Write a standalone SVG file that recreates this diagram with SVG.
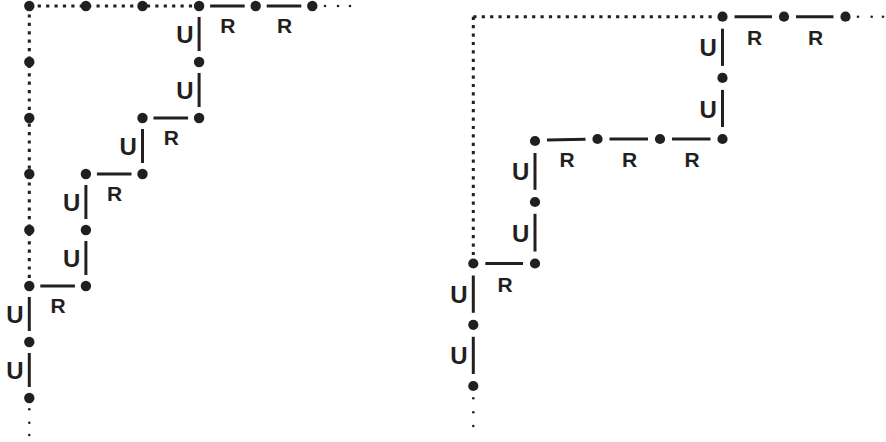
<svg xmlns="http://www.w3.org/2000/svg" width="886" height="442" viewBox="0 0 886 442">
<style>
.bg{fill:#ffffff}
.node{fill:#231f20}
.tiny{fill:#231f20}
.seg{stroke:#231f20;stroke-width:3;fill:none}
.dot{stroke:#231f20;stroke-width:3;fill:none;stroke-dasharray:3.2 5.2}
.u{font-family:"Liberation Sans",Arial,sans-serif;font-weight:bold;font-size:24px;fill:#231f20;text-anchor:middle}
.r{font-family:"Liberation Sans",Arial,sans-serif;font-weight:bold;font-size:21px;fill:#231f20;text-anchor:middle}
</style>
<rect class="bg" x="0" y="0" width="886" height="442"/>

<!-- LEFT DIAGRAM -->
<g id="left-connectors">
  <line class="dot" x1="29.3" y1="6" x2="199.1" y2="6"/>
  <line class="dot" x1="29.3" y1="6" x2="29.3" y2="286"/>
  <line class="seg" x1="29.3" y1="387" x2="29.3" y2="353"/>
  <line class="seg" x1="29.3" y1="331" x2="29.3" y2="297"/>
  <line class="seg" x1="40.3" y1="286" x2="74.9" y2="286"/>
  <line class="seg" x1="85.9" y1="275" x2="85.9" y2="241"/>
  <line class="seg" x1="85.9" y1="219" x2="85.9" y2="185"/>
  <line class="seg" x1="96.9" y1="174" x2="131.5" y2="174"/>
  <line class="seg" x1="142.5" y1="163" x2="142.5" y2="129"/>
  <line class="seg" x1="153.5" y1="118" x2="188.1" y2="118"/>
  <line class="seg" x1="199.1" y1="107" x2="199.1" y2="73"/>
  <line class="seg" x1="199.1" y1="51" x2="199.1" y2="17"/>
  <line class="seg" x1="210.1" y1="6" x2="244.7" y2="6"/>
  <line class="seg" x1="266.7" y1="6" x2="301.3" y2="6"/>
  <circle class="tiny" cx="325" cy="6" r="1.3"/>
  <circle class="tiny" cx="338" cy="6" r="1.3"/>
  <circle class="tiny" cx="350" cy="6" r="1.3"/>
  <circle class="tiny" cx="29.3" cy="409.3" r="1.3"/>
  <circle class="tiny" cx="29.3" cy="422.7" r="1.3"/>
  <circle class="tiny" cx="29.3" cy="435" r="1.3"/>
  <text class="u" x="15" y="379">U</text>
  <text class="u" x="15" y="323">U</text>
  <text class="u" x="71.6" y="267">U</text>
  <text class="u" x="71.6" y="211">U</text>
  <text class="u" x="128.2" y="155">U</text>
  <text class="u" x="184.8" y="99">U</text>
  <text class="u" x="184.8" y="43">U</text>
  <text class="r" x="58.1" y="313">R</text>
  <text class="r" x="114.7" y="201">R</text>
  <text class="r" x="171.3" y="145">R</text>
  <text class="r" x="227.9" y="33">R</text>
  <text class="r" x="284.5" y="33">R</text>
</g>
<g id="L-a0"><circle class="node" cx="29.3" cy="6" r="5.2"/></g>
<g id="L-a1"><circle class="node" cx="85.9" cy="6" r="5.2"/></g>
<g id="L-a2"><circle class="node" cx="142.5" cy="6" r="5.2"/></g>
<g id="L-b1"><circle class="node" cx="29.3" cy="62" r="5.2"/></g>
<g id="L-b2"><circle class="node" cx="29.3" cy="118" r="5.2"/></g>
<g id="L-b3"><circle class="node" cx="29.3" cy="174" r="5.2"/></g>
<g id="L-b4"><circle class="node" cx="29.3" cy="230" r="5.2"/></g>
<g id="L-p0"><circle class="node" cx="29.3" cy="398" r="5.2"/></g>
<g id="L-p1"><circle class="node" cx="29.3" cy="342" r="5.2"/></g>
<g id="L-p2"><circle class="node" cx="29.3" cy="286" r="5.2"/></g>
<g id="L-p3"><circle class="node" cx="85.9" cy="286" r="5.2"/></g>
<g id="L-p4"><circle class="node" cx="85.9" cy="230" r="5.2"/></g>
<g id="L-p5"><circle class="node" cx="85.9" cy="174" r="5.2"/></g>
<g id="L-p6"><circle class="node" cx="142.5" cy="174" r="5.2"/></g>
<g id="L-p7"><circle class="node" cx="142.5" cy="118" r="5.2"/></g>
<g id="L-p8"><circle class="node" cx="199.1" cy="118" r="5.2"/></g>
<g id="L-p9"><circle class="node" cx="199.1" cy="62" r="5.2"/></g>
<g id="L-p10"><circle class="node" cx="199.1" cy="6" r="5.2"/></g>
<g id="L-p11"><circle class="node" cx="255.7" cy="6" r="5.2"/></g>
<g id="L-p12"><circle class="node" cx="312.3" cy="6" r="5.2"/></g>

<!-- RIGHT DIAGRAM -->
<g id="right-connectors">
  <line class="dot" x1="473.3" y1="16.7" x2="716" y2="16.7"/>
  <line class="dot" x1="473.3" y1="16.7" x2="473.3" y2="256"/>
  <line class="seg" x1="473.3" y1="374" x2="473.3" y2="336.8"/>
  <line class="seg" x1="473.3" y1="312.8" x2="473.3" y2="275.5"/>
  <line class="seg" x1="485.3" y1="263.5" x2="523" y2="263.5"/>
  <line class="seg" x1="535" y1="251.5" x2="535" y2="213.8"/>
  <line class="seg" x1="535" y1="189.8" x2="535" y2="153"/>
  <line class="seg" x1="547" y1="140" x2="585.5" y2="139.3"/>
  <line class="seg" x1="609.5" y1="139" x2="648" y2="139"/>
  <line class="seg" x1="672" y1="139" x2="710.5" y2="139"/>
  <line class="seg" x1="722.5" y1="127" x2="722.5" y2="89.9"/>
  <line class="seg" x1="722.5" y1="65.9" x2="722.5" y2="28.7"/>
  <line class="seg" x1="734.5" y1="16.7" x2="772" y2="16.7"/>
  <line class="seg" x1="796" y1="16.7" x2="833.5" y2="16.7"/>
  <circle class="tiny" cx="858" cy="16.7" r="1.3"/>
  <circle class="tiny" cx="871.7" cy="16.7" r="1.3"/>
  <circle class="tiny" cx="883" cy="16.7" r="1.3"/>
  <circle class="tiny" cx="473.3" cy="398.3" r="1.3"/>
  <circle class="tiny" cx="473.3" cy="412.3" r="1.3"/>
  <circle class="tiny" cx="473.3" cy="426" r="1.3"/>
  <text class="u" x="459" y="364.4">U</text>
  <text class="u" x="459" y="303.2">U</text>
  <text class="u" x="520.7" y="241.6">U</text>
  <text class="u" x="520.7" y="180.4">U</text>
  <text class="u" x="708.2" y="117.5">U</text>
  <text class="u" x="708.2" y="56.3">U</text>
  <text class="r" x="505" y="291.5">R</text>
  <text class="r" x="567" y="167">R</text>
  <text class="r" x="629.5" y="167">R</text>
  <text class="r" x="692" y="167">R</text>
  <text class="r" x="754.5" y="45">R</text>
  <text class="r" x="815.5" y="45">R</text>
</g>
<g id="R-p0"><circle class="node" cx="473.3" cy="386" r="5.1"/></g>
<g id="R-p1"><circle class="node" cx="473.3" cy="324.8" r="5.1"/></g>
<g id="R-p2"><circle class="node" cx="473.3" cy="263.5" r="5.1"/></g>
<g id="R-p3"><circle class="node" cx="535" cy="263.5" r="5.1"/></g>
<g id="R-p4"><circle class="node" cx="535" cy="202" r="5.1"/></g>
<g id="R-p5"><circle class="node" cx="535" cy="141" r="5.1"/></g>
<g id="R-p6"><circle class="node" cx="597.5" cy="139" r="5.1"/></g>
<g id="R-p7"><circle class="node" cx="660" cy="139" r="5.1"/></g>
<g id="R-p8"><circle class="node" cx="722.5" cy="139" r="5.1"/></g>
<g id="R-p9"><circle class="node" cx="722.5" cy="77.9" r="5.1"/></g>
<g id="R-p10"><circle class="node" cx="722.5" cy="16.7" r="5.1"/></g>
<g id="R-p11"><circle class="node" cx="784" cy="16.7" r="5.1"/></g>
<g id="R-p12"><circle class="node" cx="845.5" cy="16.7" r="5.1"/></g>
</svg>
